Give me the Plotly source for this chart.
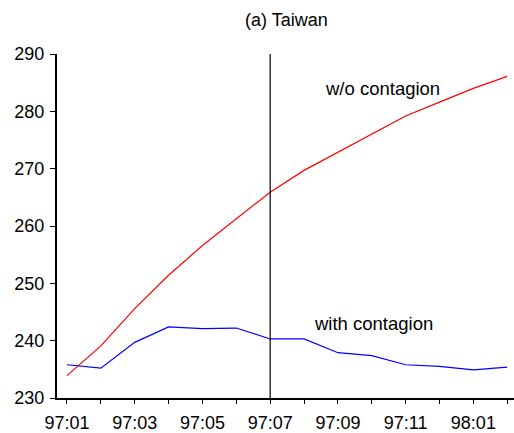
import plotly.graph_objects as go

# Monthly periods (year:month)
months = ["97:01", "97:02", "97:03", "97:04", "97:05", "97:06", "97:07",
          "97:08", "97:09", "97:10", "97:11", "97:12", "98:01", "98:02"]

# Simulated paths
without_contagion = [233.9, 239.1, 245.6, 251.4, 256.6, 261.3, 265.9,
                     269.7, 272.9, 276.1, 279.2, 281.6, 284.0, 286.1]
with_contagion = [235.8, 235.2, 239.7, 242.4, 242.1, 242.2, 240.3,
                  240.3, 237.9, 237.4, 235.8, 235.5, 234.9, 235.4]

break_month = "97:07"
y_ticks = [230, 240, 250, 260, 270, 280, 290]

x = list(range(len(months)))
font = "Liberation Sans, Arial, sans-serif"

fig = go.Figure()
fig.add_trace(go.Scatter(x=x, y=without_contagion, mode="lines",
                         line=dict(color="#ff0000", width=1.2),
                         showlegend=False, hoverinfo="skip"))
fig.add_trace(go.Scatter(x=x, y=with_contagion, mode="lines",
                         line=dict(color="#0000ff", width=1.2),
                         showlegend=False, hoverinfo="skip"))

# Vertical marker at the break date
fig.add_shape(type="line", xref="x", yref="y domain",
              x0=months.index(break_month), x1=months.index(break_month),
              y0=0, y1=1, line=dict(color="black", width=1.2))

fig.add_annotation(x=7.56, y=283.9, xref="x", yref="y", text="w/o contagion",
                   showarrow=False, xanchor="left", yanchor="middle",
                   font=dict(family=font, size=18.5, color="black"))
fig.add_annotation(x=7.24, y=243.0, xref="x", yref="y", text="with contagion",
                   showarrow=False, xanchor="left", yanchor="middle",
                   font=dict(family=font, size=18.5, color="black"))

fig.update_layout(
    width=514, height=433,
    margin=dict(l=57, r=0, t=54, b=33),
    paper_bgcolor="white", plot_bgcolor="white",
    title=dict(text="(a) Taiwan", x=0.502, xref="paper", xanchor="center",
               y=1 - 20 / 433, yanchor="middle",
               font=dict(family=font, size=18, color="black")),
    font=dict(family=font, color="black"),
)

fig.update_xaxes(
    range=[-0.295, 13.2],
    tickmode="array",
    tickvals=x[::2],
    ticktext=months[::2],
    ticks="outside", ticklen=4, tickwidth=1, tickcolor="black",
    ticklabelstandoff=3,
    minor=dict(tickmode="array", tickvals=x[1::2], ticks="outside",
               ticklen=4, tickwidth=1, tickcolor="black"),
    showline=True, linecolor="black", linewidth=2,
    showgrid=False, zeroline=False,
    tickfont=dict(family=font, size=18, color="black"),
)
fig.update_yaxes(
    range=[230, 290],
    tickmode="array", tickvals=y_ticks,
    ticks="outside", ticklen=5, tickwidth=1, tickcolor="black",
    ticklabelstandoff=2,
    showline=True, linecolor="black", linewidth=2,
    showgrid=False, zeroline=False,
    tickfont=dict(family=font, size=18, color="black"),
)

fig.write_html("out.html")
